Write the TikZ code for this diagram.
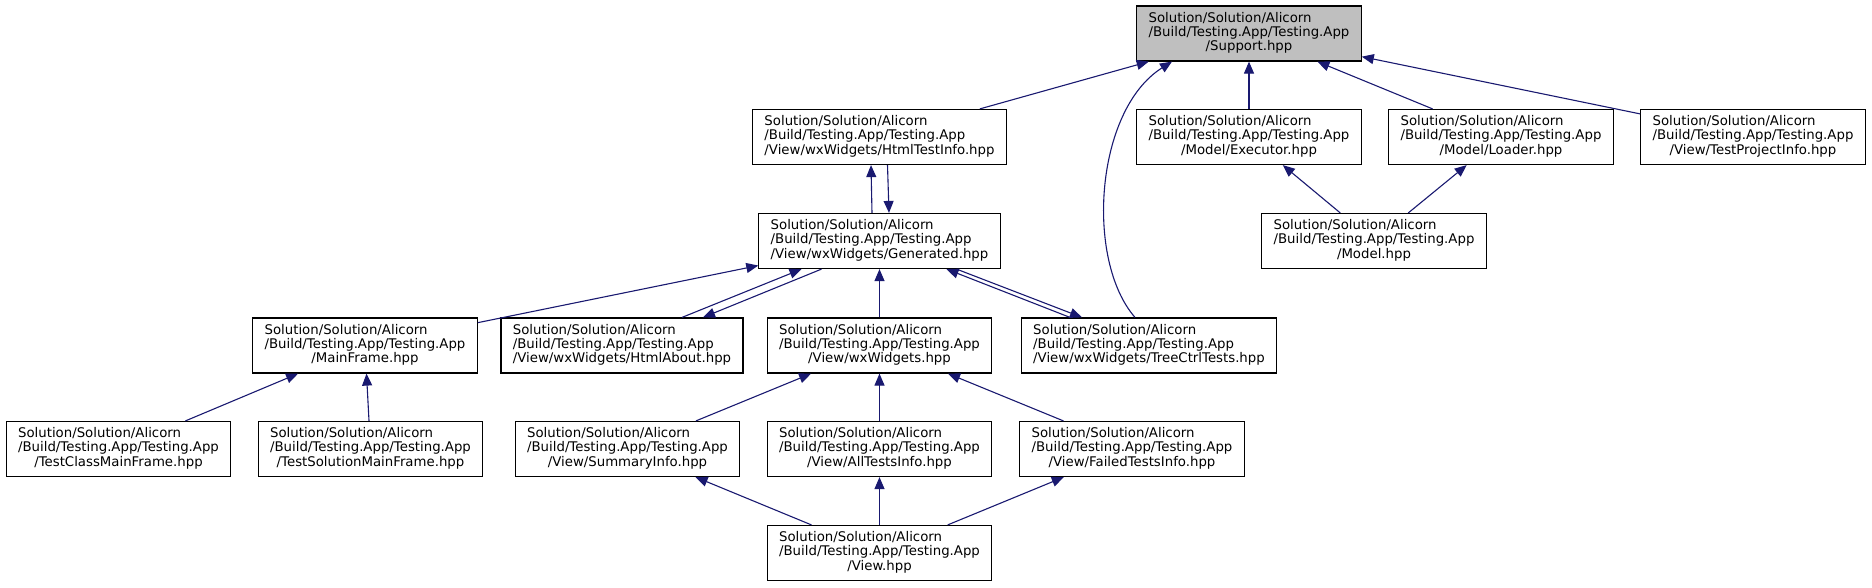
\documentclass[tikz,border=0pt]{standalone}
\usepackage{fontspec}
\setmainfont{DejaVu Sans}
\usetikzlibrary{arrows.meta}
\definecolor{edgeblue}{HTML}{191970}
\definecolor{focusgray}{HTML}{BFBFBF}
% three line file label, last line centred
\newcommand{\hpath}[1]{\begin{tabular}{@{}l@{}}Solution/Solution/Alicorn\\/Build/Testing.App/Testing.App\\\multicolumn{1}{@{}c@{}}{#1}\end{tabular}}
\tikzset{
  file/.style={draw=black, fill=white, line width=1.2pt, inner xsep=11.8pt, inner ysep=0pt, minimum height=55pt, font=\fontsize{13.3}{14.3}\selectfont},
  focus/.style={file, fill=focusgray},
  dep/.style={edgeblue, line width=1.1pt, -{Triangle[length=12pt,width=10pt]}}
}

\begin{document}
\begin{tikzpicture}[x=1pt, y=-1pt]
    % Canvas in pixel units, y grows downward
    \useasboundingbox (0,0) rectangle (1872,587);

    % Header whose includers are shown
    \node[focus] (support) at (1249,33.5) {\hpath{/Support.hpp}};

    % Row 1
    \node[file] (htmltest) at (879.5,137) {\hpath{/View/wxWidgets/HtmlTestInfo.hpp}};
    \node[file] (executor) at (1249,137) {\hpath{/Model/Executor.hpp}};
    \node[file] (loader) at (1501,137) {\hpath{/Model/Loader.hpp}};
    \node[file] (projinfo) at (1753,137) {\hpath{/View/TestProjectInfo.hpp}};

    % Row 2
    \node[file] (generated) at (879.5,241) {\hpath{/View/wxWidgets/Generated.hpp}};
    \node[file] (model) at (1374,241) {\hpath{/Model.hpp}};

    % Row 3
    \node[file] (mainframe) at (365,345.5) {\hpath{/MainFrame.hpp}};
    \node[file] (about) at (622,345.5) {\hpath{/View/wxWidgets/HtmlAbout.hpp}};
    \node[file] (widgets) at (879.5,345.5) {\hpath{/View/wxWidgets.hpp}};
    \node[file] (tree) at (1149,345.5) {\hpath{/View/wxWidgets/TreeCtrlTests.hpp}};

    % Row 4
    \node[file] (classmain) at (118.5,449) {\hpath{/TestClassMainFrame.hpp}};
    \node[file] (solutionmain) at (370.5,449) {\hpath{/TestSolutionMainFrame.hpp}};
    \node[file] (summary) at (627.5,449) {\hpath{/View/SummaryInfo.hpp}};
    \node[file] (alltests) at (879.5,449) {\hpath{/View/AllTestsInfo.hpp}};
    \node[file] (failed) at (1132,449) {\hpath{/View/FailedTestsInfo.hpp}};

    % Row 5
    \node[file] (view) at (879.5,553) {\hpath{/View.hpp}};

    % Includes of Support.hpp
    \draw[dep] (htmltest) -- (support);
    \draw[dep] ([xshift=-14pt]tree.north) .. controls (1085,260) and (1095,110) .. ([xshift=-77pt]support.south);
    \draw[dep] (executor) -- (support);
    \draw[dep] (loader) -- (support);
    \draw[dep] (projinfo) -- (support);
    \draw[dep] (model) -- (executor);
    \draw[dep] (model) -- (loader);

    % Generated.hpp and its neighbours
    \draw[dep] ([xshift=-7.5pt]generated.north) -- ([xshift=-8.5pt]htmltest.south);
    \draw[dep] ([xshift=8pt]htmltest.south) -- ([xshift=9.5pt]generated.north);
    \draw[dep] (mainframe) -- (generated);
    \draw[dep] ([xshift=60pt]about.north) -- ([xshift=-78pt]generated.south);
    \draw[dep] ([xshift=-58pt]generated.south) -- ([xshift=81pt]about.north);
    \draw[dep] (widgets) -- (generated);
    \draw[dep] ([xshift=-79pt]tree.north) -- ([xshift=67pt]generated.south);
    \draw[dep] ([xshift=77pt]generated.south) -- ([xshift=-67pt]tree.north);

    % Lower levels
    \draw[dep] (classmain) -- (mainframe);
    \draw[dep] (solutionmain) -- (mainframe);
    \draw[dep] (summary) -- (widgets);
    \draw[dep] (alltests) -- (widgets);
    \draw[dep] (failed) -- (widgets);
    \draw[dep] (view) -- (summary);
    \draw[dep] (view) -- (alltests);
    \draw[dep] (view) -- (failed);
\end{tikzpicture}
\end{document}
